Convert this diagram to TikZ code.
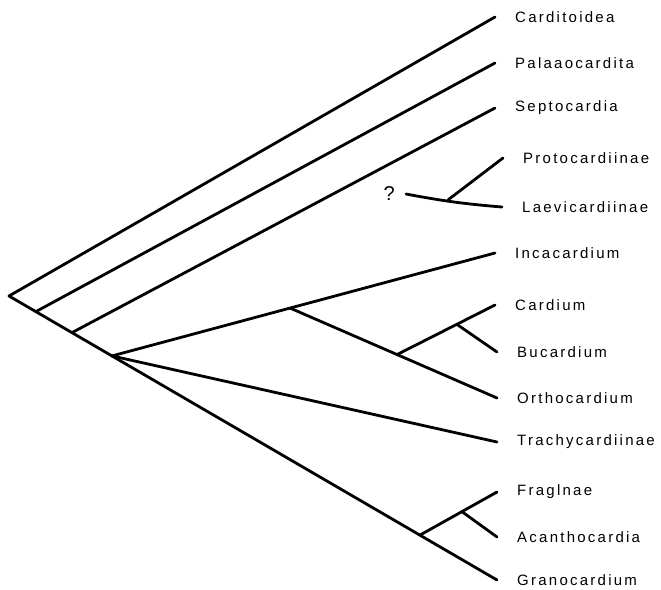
\documentclass[tikz,border=0pt]{standalone}
\usepackage{fontspec}
\newfontfamily\taxfont[LetterSpace=15]{Liberation Sans}
\usetikzlibrary{positioning, calc}
\tikzset{
	branch/.style={draw, line width=2.8pt, line cap=round, line join=round}, % the lines of the tree
	taxon/.style={font=\taxfont\fontsize{15}{18}\selectfont, inner sep=0pt}, % the names at the tips
	node distance=20pt, % gap between a tip and its name
}
\begin{document}
\begin{tikzpicture}[x=1pt, y=-1pt]
		\useasboundingbox (0,0) rectangle (661,589);
		% Root and tips
		\coordinate (root) at (9,296);
		\coordinate (tCardit) at (495,17);
		\coordinate (tPalaa) at (495,63);
		\coordinate (tSepto) at (495,108);
		\coordinate (tProto) at (503,158);
		\coordinate (tLaevi) at (502,207);
		\coordinate (tInca) at (495,253);
		\coordinate (tCard) at (495,305);
		\coordinate (tBuca) at (497,352);
		\coordinate (tOrtho) at (497,398);
		\coordinate (tTrachy) at (497,442);
		\coordinate (tFrag) at (497,492);
		\coordinate (tAcan) at (497,537);
		\coordinate (tGrano) at (497,580);
		\coordinate (q) at (406,194);
		
		% Forks, on the branch they split from
		\coordinate (n1) at ($(root)!0.055!(tGrano)$);
		\coordinate (n2) at ($(root)!0.129!(tGrano)$);
		\coordinate (n3) at ($(root)!0.211!(tGrano)$);
		\coordinate (nFrag) at ($(root)!0.842!(tGrano)$);
		\coordinate (nInca) at ($(n3)!0.465!(tInca)$);
		\coordinate (nOrtho) at ($(nInca)!0.517!(tOrtho)$);
		\coordinate (nCard) at ($(nOrtho)!0.61!(tCard)$);
		\coordinate (nAcan) at ($(nFrag)!0.545!(tFrag)$);
		\coordinate (nProto) at ($(q)!0.44!(tLaevi)$);
		
		% Names
		\node[taxon, right=of tCardit] (cardit) {Carditoidea};
		\node[taxon, right=of tPalaa] (palaa) {Palaaocardita};
		\node[taxon, right=of tSepto] (septo) {Septocardia};
		\node[taxon, right=of tProto] (proto) {Protocardiinae};
		\node[taxon, right=of tLaevi] (laevi) {Laevicardiinae};
		\node[taxon, right=of tInca] (inca) {Incacardium};
		\node[taxon, right=of tCard] (card) {Cardium};
		\node[taxon, right=of tBuca] (buca) {Bucardium};
		\node[taxon, right=of tOrtho] (ortho) {Orthocardium};
		\node[taxon, right=of tTrachy] (trachy) {Trachycardiinae};
		\node[taxon, right=of tFrag] (frag) {Fraglnae};
		\node[taxon, right=of tAcan] (acan) {Acanthocardia};
		\node[taxon, right=of tGrano] (grano) {Granocardium};
		\node[taxon, font=\taxfont\fontsize{20}{22}\selectfont, left=11pt of q] (qmark) {?};
		
		% Branches
		\draw[branch] (tCardit) -- (root) -- (tGrano);
		\path[branch]
		(n1) edge (tPalaa)
		(n2) edge (tSepto)
		(n3) edge (tInca)
		(n3) edge (tTrachy)
		(nInca) edge (tOrtho)
		(nOrtho) edge (tCard)
		(nCard) edge (tBuca)
		(nFrag) edge (tFrag)
		(nAcan) edge (tAcan)
		(q) edge[bend right=3] (tLaevi)
		(nProto) edge (tProto);
	\end{tikzpicture}
\end{document}
